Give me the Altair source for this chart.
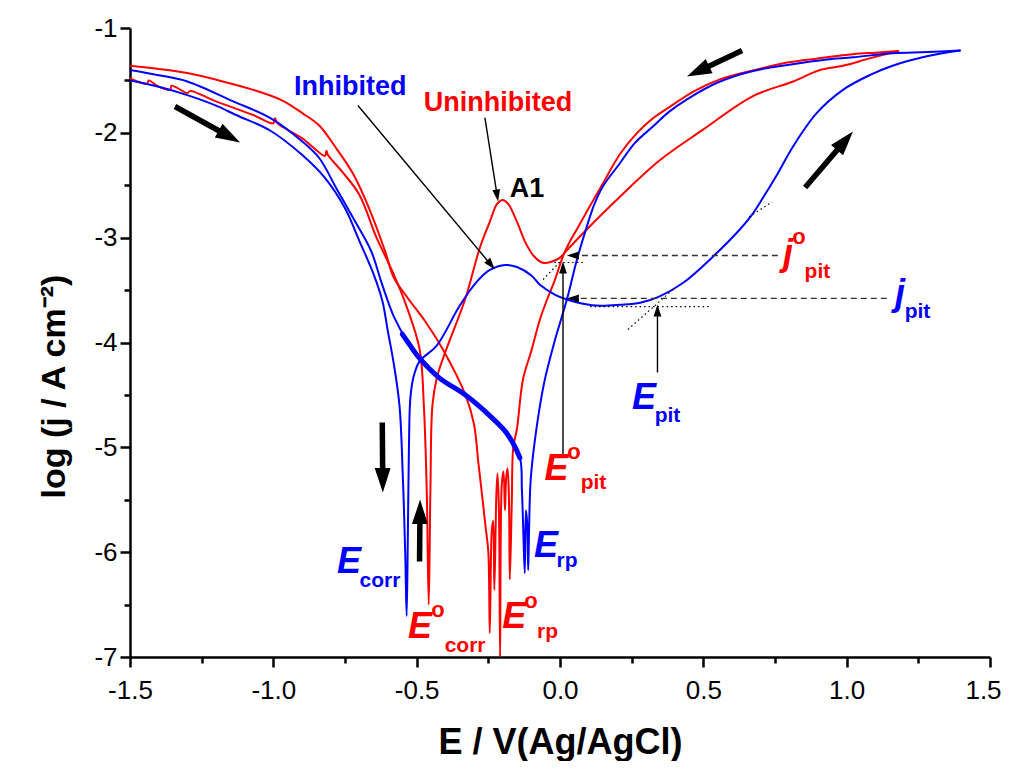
import math
import altair as alt
import pandas as pd

# ---------------- curve data (E in V vs Ag/AgCl, log j) ----------------
blue_fwd_E = [-1.50, -1.40, -1.30, -1.20, -1.13, -1.01, -0.90, -0.82, -0.75, -0.70, -0.65, -0.62, -0.60,
              -0.58, -0.56, -0.548, -0.54, -0.535, -0.531, -0.527, -0.522, -0.512, -0.49, -0.43, -0.35,
              -0.29, -0.246, -0.19, -0.15, -0.10, -0.07, -0.02, 0.024, 0.08, 0.14, 0.21, 0.28, 0.34,
              0.43, 0.534, 0.628, 0.67, 0.708, 0.757, 0.813, 0.896, 0.987, 1.08, 1.16, 1.28, 1.395]
blue_fwd_logj = [-1.50, -1.56, -1.64, -1.74, -1.83, -1.98, -2.21, -2.43, -2.72, -3.03, -3.35, -3.60, -3.90,
                 -4.20, -4.60, -5.30, -6.00, -6.61, -5.90, -5.00, -4.53, -4.34, -4.18, -4.03, -3.65,
                 -3.42, -3.31, -3.26, -3.28, -3.36, -3.45, -3.54, -3.59, -3.63, -3.65, -3.64, -3.62, -3.57,
                 -3.43, -3.18, -2.92, -2.78, -2.62, -2.40, -2.13, -1.81, -1.59, -1.45, -1.36, -1.27, -1.215]

blue_rev_E = [1.395, 1.28, 1.16, 1.022, 0.931, 0.80, 0.673, 0.55, 0.443, 0.38, 0.324, 0.26, 0.209, 0.15,
              0.12, 0.094, 0.059, 0.024, -0.02, -0.055, -0.082, -0.102, -0.108, -0.111, -0.115, -0.119,
              -0.123, -0.128, -0.133, -0.14, -0.19, -0.26, -0.33, -0.42, -0.49, -0.53, -0.58, -0.62,
              -0.66, -0.72, -0.78, -0.84, -0.90, -1.01, -1.14, -1.30, -1.40, -1.50]
blue_rev_logj = [-1.215, -1.23, -1.24, -1.28, -1.30, -1.35, -1.41, -1.52, -1.68, -1.80, -1.94, -2.10, -2.29,
                 -2.51, -2.68, -2.89, -3.21, -3.59, -4.00, -4.38, -4.82, -5.30, -5.80, -6.17, -5.70, -5.60,
                 -6.20, -5.80, -5.40, -5.10, -4.85, -4.66, -4.50, -4.34, -4.15, -4.00, -3.75, -3.45,
                 -3.12, -2.82, -2.53, -2.24, -2.08, -1.86, -1.70, -1.51, -1.45, -1.40]

# noisy (thick) part of the inhibited reverse scan
blue_noise_E = [-0.55, -0.53, -0.49, -0.42, -0.33, -0.26, -0.19, -0.16, -0.14]
blue_noise_logj = [-3.92, -4.00, -4.15, -4.34, -4.50, -4.66, -4.85, -4.98, -5.10]

red_fwd_E = [-1.50, -1.44, -1.435, -1.40, -1.36, -1.355, -1.30, -1.29, -1.20, -1.07, -1.00, -0.995,
             -0.985, -0.90, -0.82, -0.815, -0.81, -0.76, -0.70, -0.64, -0.585, -0.536, -0.49, -0.475,
             -0.465, -0.458, -0.452, -0.445, -0.43, -0.40, -0.33, -0.28, -0.245, -0.22, -0.20, -0.18,
             -0.15, -0.12, -0.09, -0.06, -0.03, 0.0, 0.024, 0.094, 0.209, 0.349, 0.499, 0.673, 0.813,
             0.907, 0.987, 1.08, 1.18]
red_fwd_logj = [-1.48, -1.53, -1.50, -1.56, -1.59, -1.55, -1.62, -1.60, -1.70, -1.83, -1.91, -1.86,
                -1.91, -2.05, -2.22, -2.17, -2.21, -2.37, -2.59, -3.00, -3.32, -3.65, -4.06, -4.60,
                -5.40, -6.50, -5.40, -4.60, -4.34, -4.09, -3.58, -3.10, -2.85, -2.68, -2.64, -2.68,
                -2.85, -3.05, -3.18, -3.24, -3.23, -3.19, -3.12, -2.92, -2.61, -2.26, -1.97, -1.65, -1.51,
                -1.40, -1.36, -1.29, -1.22]

red_rev_E = [1.18, 1.10, 1.022, 0.90, 0.792, 0.68, 0.558, 0.47, 0.384, 0.32, 0.269, 0.21, 0.15, 0.10,
             0.059, 0.03, 0.01, -0.02, -0.045, -0.07, -0.10, -0.129, -0.15, -0.163, -0.168, -0.175,
             -0.178, -0.183, -0.188, -0.192, -0.197, -0.203, -0.209, -0.213, -0.218, -0.222, -0.229,
             -0.233, -0.238, -0.245, -0.25, -0.26, -0.27, -0.285, -0.30, -0.33, -0.41, -0.47, -0.53,
             -0.58, -0.61, -0.666, -0.72, -0.78, -0.84, -0.90, -0.97, -1.07, -1.19, -1.30, -1.40, -1.50]
red_rev_logj = [-1.22, -1.235, -1.25, -1.29, -1.33, -1.40, -1.49, -1.60, -1.75, -1.87, -2.00, -2.20, -2.48,
                -2.72, -2.92, -3.06, -3.18, -3.42, -3.59, -3.78, -4.08, -4.35, -4.82, -5.00, -5.50, -6.26,
                -5.50, -5.20, -5.30, -5.60, -5.23, -5.35, -7.00, -5.60, -5.25, -5.45, -6.36,
                -5.70, -5.80, -6.77, -6.00, -5.75, -5.50, -5.14, -4.78, -4.50, -4.06, -3.80, -3.58,
                -3.38, -3.13, -2.72, -2.40, -2.15, -1.93, -1.81, -1.69, -1.59, -1.50, -1.43, -1.39, -1.36]

# ---------------- annotation data ----------------
# direction arrows: tail E, tail logj, tip E, tip logj
thick_arrows = [(-1.343, -1.749, -1.116, -2.092),
                (0.635, -1.215, 0.443, -1.463),
                (0.855, -2.522, 1.022, -1.987),
                (-0.620, -4.763, -0.618, -5.431),
                (-0.490, -6.089, -0.488, -5.498)]
thin_arrows = [(-0.705, -1.739, -0.227, -3.304),
               (-0.262, -1.854, -0.216, -2.655),
               (0.0105, -5.097, 0.0105, -3.227),
               (0.340, -4.286, 0.340, -3.638)]
dashed_arrows = [(0.760, -3.170, 0.024, -3.170),
                 (1.140, -3.580, 0.024, -3.580)]
dotted_lines = [(0.237, -3.876, 0.394, -3.495),
                (0.105, -3.657, 0.523, -3.657),
                (0.660, -2.800, 0.740, -2.660),
                (-0.059, -3.400, 0.000, -3.230),
                (-0.020, -3.237, 0.080, -3.237)]

BLUE = "#0000ff"
RED = "#ff0000"
BLACK = "#000000"

plain_labels = [("Inhibited", -0.732, -1.563, BLUE),
                ("Uninhibited", -0.216, -1.711, RED),
                ("A1", -0.115, -2.540, BLACK)]
big_letters = [("E", -0.736, -6.194, BLUE), ("E", -0.488, -6.814, RED), ("E", -0.160, -6.719, RED),
               ("E", -0.0488, -6.042, BLUE), ("E", -0.0122, -5.307, RED), ("E", 0.293, -4.639, BLUE),
               ("j", 0.795, -3.256, RED), ("j", 1.186, -3.638, BLUE)]
subscripts = [("corr", -0.628, -6.328, BLUE), ("corr", -0.331, -6.957, RED), ("rp", -0.0436, -6.814, RED),
              ("rp", 0.0244, -6.146, BLUE), ("pit", 0.117, -5.402, RED), ("pit", 0.375, -4.754, BLUE),
              ("pit", 0.898, -3.380, RED), ("pit", 1.247, -3.762, BLUE)]
superscripts = [("o", -0.4255, -6.614, RED), ("o", -0.101, -6.528, RED),
                ("o", 0.0488, -5.116, RED), ("o", 0.834, -3.065, RED)]

x_ticks = [-1.5 + 0.25 * k for k in range(13)]
y_ticks = [-7 + 0.5 * k for k in range(13)]

# ---------------- layout ----------------
W, H = 860, 629
XMIN, XMAX, YMIN, YMAX = -1.5, 1.5, -7.0, -1.0
PXX = W / (XMAX - XMIN)
PXY = H / (YMAX - YMIN)
FONT = "Liberation Sans"


def curve_df(Es, Ls):
    return pd.DataFrame({"E": Es, "logj": Ls, "i": list(range(len(Es)))})


def arrow_df(rows, back_px):
    recs = []
    for (e0, l0, e1, l1) in rows:
        dx = (e1 - e0) * PXX
        dy = -(l1 - l0) * PXY
        n = math.hypot(dx, dy)
        ang = math.degrees(math.atan2(dx, -dy)) % 360
        be = e1 - (dx / n) * back_px / PXX
        bl = l1 + (dy / n) * back_px / PXY
        recs.append({"E": e0, "logj": l0, "E2": be, "L2": bl, "tipE": e1, "tipL": l1, "ang": ang})
    return pd.DataFrame(recs)


xscale = alt.Scale(domain=[XMIN, XMAX], nice=False, zero=False)
yscale = alt.Scale(domain=[YMIN, YMAX], nice=False, zero=False)

xaxis = alt.Axis(values=x_ticks, title="E / V(Ag/AgCl)", grid=False,
                 labelExpr="abs(datum.value % 0.5) < 0.001 ? replace(format(datum.value, '.1f'), '\u2212', '-') : ''",
                 tickSize={"condition": {"test": "abs(datum.value % 0.5) < 0.001", "value": 10}, "value": 6},
                 labelOffset={"condition": {"test": "datum.value > 1.4", "value": -7}, "value": 0},
                 labelFlush=False, labelOverlap=False, labelPadding=10, labelBaseline="top",
                 titleY=96, titleBaseline="alphabetic")
yaxis = alt.Axis(values=y_ticks, title="log (j / A cm\u207b\u00b2)", grid=False,
                 labelExpr="abs(datum.value % 1) < 0.001 ? replace(format(datum.value, 'd'), '\u2212', '-') : ''",
                 tickSize={"condition": {"test": "abs(datum.value % 1) < 0.001", "value": 10}, "value": 6},
                 labelFlush=False, labelOverlap=False, labelPadding=3,
                 titleX=-66, titleY=358, titleBaseline="alphabetic", titleAngle=270, titleFontSize=34)

X = alt.X("E:Q", scale=xscale, axis=xaxis)
Y = alt.Y("logj:Q", scale=yscale, axis=yaxis)

layers = []


def line_layer(Es, Ls, color, width):
    return alt.Chart(curve_df(Es, Ls)).mark_line(
        color=color, strokeWidth=width, strokeJoin="round", strokeCap="round",
        interpolate="catmull-rom", clip=True
    ).encode(x=X, y=Y, order="i:Q")


layers.append(line_layer(red_fwd_E, red_fwd_logj, RED, 2))
layers.append(line_layer(red_rev_E, red_rev_logj, RED, 2))
layers.append(line_layer(blue_fwd_E, blue_fwd_logj, BLUE, 2))
layers.append(line_layer(blue_rev_E, blue_rev_logj, BLUE, 2))
layers.append(line_layer(blue_noise_E, blue_noise_logj, BLUE, 5))

# dotted tangent lines
dot_df = pd.DataFrame([{"E": a, "logj": b, "E2": c, "L2": d} for (a, b, c, d) in dotted_lines])
layers.append(alt.Chart(dot_df).mark_rule(color=BLACK, strokeWidth=1.2, strokeDash=[1.5, 3]).encode(
    x=X, y=Y, x2="E2:Q", y2="L2:Q"))

HEAD = "M0,0L-0.65,2L0.65,2Z"
TIPX = alt.X("tipE:Q", scale=xscale, axis=xaxis)
TIPY = alt.Y("tipL:Q", scale=yscale, axis=yaxis)

# dashed arrows
dash_df = arrow_df(dashed_arrows, 6)
layers.append(alt.Chart(dash_df).mark_rule(color="#333333", strokeWidth=1.3, strokeDash=[6, 4]).encode(
    x=X, y=Y, x2="E2:Q", y2="L2:Q"))
layers.append(alt.Chart(dash_df).mark_point(shape=HEAD, filled=True, size=144, color=BLACK, opacity=1).encode(
    x=TIPX, y=TIPY, angle=alt.Angle("ang:Q", scale=None)))

# thin arrows
thin_df = arrow_df(thin_arrows, 5)
layers.append(alt.Chart(thin_df).mark_rule(color=BLACK, strokeWidth=1.4).encode(
    x=X, y=Y, x2="E2:Q", y2="L2:Q"))
layers.append(alt.Chart(thin_df).mark_point(shape=HEAD, filled=True, size=144, color=BLACK, opacity=1).encode(
    x=TIPX, y=TIPY, angle=alt.Angle("ang:Q", scale=None)))

# thick arrows
thick_df = arrow_df(thick_arrows, 16)
layers.append(alt.Chart(thick_df).mark_rule(color=BLACK, strokeWidth=5.5).encode(
    x=X, y=Y, x2="E2:Q", y2="L2:Q"))
layers.append(alt.Chart(thick_df).mark_point(shape=HEAD, filled=True, size=600, color=BLACK, opacity=1).encode(
    x=TIPX, y=TIPY, angle=alt.Angle("ang:Q", scale=None)))


def text_df(rows):
    return pd.DataFrame([{"t": t, "E": e, "logj": l, "c": c} for (t, e, l, c) in rows])


layers.append(alt.Chart(text_df(plain_labels)).mark_text(
    font=FONT, fontWeight="bold", fontSize=27, align="center", baseline="middle").encode(
    x=X, y=Y, text="t:N", color=alt.Color("c:N", scale=None)))
layers.append(alt.Chart(text_df(big_letters)).mark_text(
    font=FONT, fontWeight="bold", fontStyle="italic", fontSize=36, align="center", baseline="alphabetic").encode(
    x=X, y=Y, text="t:N", color=alt.Color("c:N", scale=None)))
layers.append(alt.Chart(text_df(subscripts)).mark_text(
    font=FONT, fontWeight="bold", fontSize=21, align="center", baseline="alphabetic").encode(
    x=X, y=Y, text="t:N", color=alt.Color("c:N", scale=None)))
layers.append(alt.Chart(text_df(superscripts)).mark_text(
    font=FONT, fontWeight="bold", fontSize=22, align="center", baseline="alphabetic").encode(
    x=X, y=Y, text="t:N", color=alt.Color("c:N", scale=None)))

chart = alt.layer(*layers).properties(
    width=W, height=H,
    autosize=alt.AutoSizeParams(type="none"),
    padding={"left": 122, "top": 20, "right": 13, "bottom": 104},
).configure_view(stroke=None).configure_axis(
    domainColor=BLACK, domainWidth=2.5, tickColor=BLACK, tickWidth=2.5,
    labelFont=FONT, labelFontSize=26, labelColor=BLACK,
    titleFont=FONT, titleFontSize=36, titleFontWeight="bold", titleColor=BLACK,
).configure_axisY(labelAlign="right", labelBaseline="middle")

chart.save("out.html", embed_options={"renderer": "svg", "actions": False})
